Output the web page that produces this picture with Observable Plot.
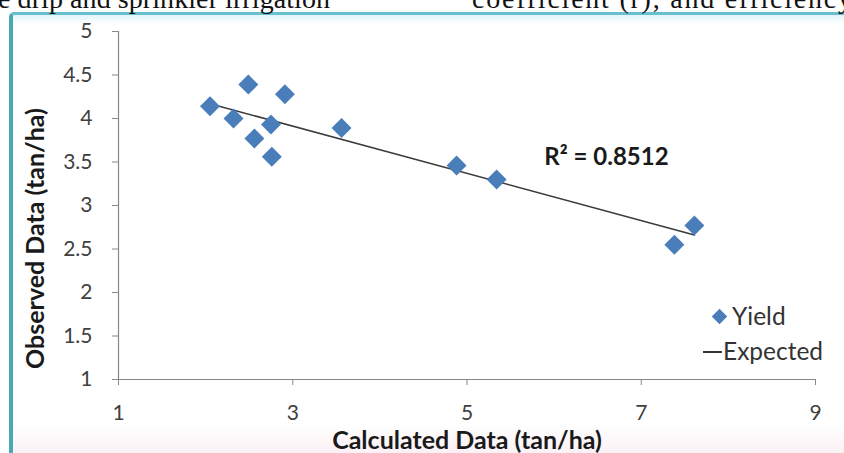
<!DOCTYPE html>
<html>
<head>
<meta charset="utf-8">
<script src="https://cdn.jsdelivr.net/npm/d3@7"></script>
<script src="https://cdn.jsdelivr.net/npm/@observablehq/plot@0.6"></script>
<style>
  html, body { margin: 0; padding: 0; background: #fff; }
  #wrap { position: relative; width: 844px; height: 453px; overflow: hidden; background: #fff; }
  #frame {
    position: absolute; left: 9px; top: 12px; width: 860px; height: 438px;
    border-left: 4px solid #4aa7b8; border-top: 3px solid #68bfd0; border-bottom: 2px solid #c9eff5;
    border-top-left-radius: 5px;
    background: linear-gradient(to bottom, #e2f5f9 0px, #ffffff 9px, #ffffff 408px, #fbf1f6 438px);
  }
  #chart { position: absolute; left: 0; top: 0; }
  .legend { position: absolute; font-family: Lato, "Open Sans", sans-serif; font-size: 24.5px; color: #333; line-height: 1; white-space: nowrap; }
  #toptext { position: absolute; left: 0; top: 0; }
</style>
</head>
<body>
<div id="wrap">
  <div id="frame"></div>
  <svg id="toptext" width="844" height="20">
    <text x="-2" y="8" font-family="Liberation Serif, serif" font-size="28" fill="#111" textLength="332" lengthAdjust="spacing">e drip and sprinkler irrigation</text>
    <text x="472" y="8" font-family="Liberation Serif, serif" font-size="28" fill="#111" textLength="380" lengthAdjust="spacing">coefficient (r), and efficiency</text>
  </svg>
  <div id="chart"></div>
  <div class="legend" style="left:714px; top:304px;"><span style="display:inline-block;width:11px;height:11px;background:#4a7ebb;transform:rotate(45deg);margin-right:7px;vertical-align:3px;"></span>Yield</div>
  <div class="legend" style="left:703px; top:339px;"><span style="display:inline-block;width:19px;height:2px;background:#333;vertical-align:7px;margin-right:1px;"></span>Expected</div>
</div>
<script>
const calculated = [2.05, 2.49, 2.32, 2.56, 2.75, 2.76, 2.91, 3.56, 4.88, 5.34, 7.38, 7.61];
const observed   = [4.14, 4.39, 4.00, 3.77, 3.93, 3.56, 4.28, 3.89, 3.46, 3.30, 2.55, 2.77];
const expectedX = [2.05, 7.61];
const expectedY = [4.17, 2.66];
const xTicks = [1, 3, 5, 7, 9];
const yTicks = [1, 1.5, 2, 2.5, 3, 3.5, 4, 4.5, 5];
const rSquaredLabel = "R² = 0.8512";
const xTitle = "Calculated Data (tan/ha)";
const yTitle = "Observed Data (tan/ha)";

const points = calculated.map((c, i) => ({x: c, y: observed[i]}));
const expected = expectedX.map((c, i) => ({x: c, y: expectedY[i]}));

const font = "Lato, 'Open Sans', sans-serif";

const plot = Plot.plot({
  width: 844,
  height: 453,
  marginLeft: 118,
  marginRight: 29,
  marginTop: 31,
  marginBottom: 74,
  style: {background: "transparent", fontFamily: font, fontSize: "21px", color: "#404040", overflow: "visible"},
  x: {domain: [1, 9], ticks: xTicks},
  y: {domain: [1, 5], ticks: yTicks},
  marks: [
    Plot.ruleX([1], {stroke: "#888", strokeWidth: 1.2}),
    Plot.ruleY([1], {stroke: "#888", strokeWidth: 1.2}),
    Plot.axisX({ticks: xTicks, tickSize: 6, tickPadding: 20, stroke: "#888", fill: "#404040", fontSize: 21, label: null, tickFormat: d => String(d)}),
    Plot.axisY({ticks: yTicks, tickSize: 6, tickPadding: 20, stroke: "#888", fill: "#404040", fontSize: 21, label: null, tickFormat: d => String(d)}),
    Plot.line(expected, {x: "x", y: "y", stroke: "#3a3a3a", strokeWidth: 1.5}),
    Plot.dot(points, {x: "x", y: "y", symbol: "diamond2", r: 9, fill: "#4a7ebb", stroke: "none"}),
    Plot.text([rSquaredLabel], {x: 6.6, y: 3.55, text: d => d, fontSize: 24, fontWeight: "bold", fill: "#1a1a1a", fontFamily: font}),
    Plot.text([xTitle], {frameAnchor: "bottom", lineAnchor: "middle", dy: 61, text: d => d, fontSize: 25, fontWeight: "bold", fill: "#1a1a1a", fontFamily: font}),
    Plot.text([yTitle], {frameAnchor: "left", textAnchor: "middle", lineAnchor: "middle", dx: -83, dy: 33, rotate: -90, text: d => d, fontSize: 25, fontWeight: "bold", fill: "#1a1a1a", fontFamily: font})
  ]
});
document.getElementById("chart").appendChild(plot);
</script>
</body>
</html>
